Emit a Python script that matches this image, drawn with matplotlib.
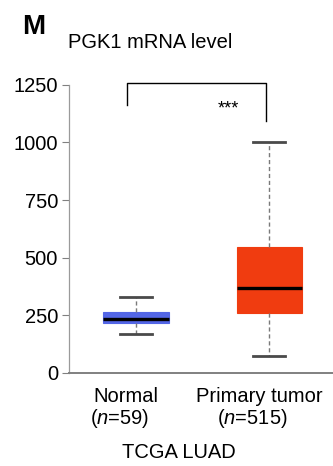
import matplotlib
matplotlib.use("Agg")
import matplotlib.pyplot as plt
import matplotlib.transforms as mtransforms

plt.rcParams['font.family'] = ['Liberation Sans', 'DejaVu Sans']
plt.rcParams['mathtext.fontset'] = 'custom'
plt.rcParams['mathtext.rm'] = 'Liberation Sans'
plt.rcParams['mathtext.it'] = 'Liberation Sans:italic'

# ---- data ----
groups = ["Normal", "Primary tumor"]
counts = [59, 515]
whislo = [169, 74]
q1 = [216, 259]
med = [234, 370]
q3 = [263, 546]
whishi = [331, 1001]
box_colors = ["#5366e6", "#f03c10"]
yticks = [0, 250, 500, 750, 1000, 1250]

fig = plt.figure(figsize=(3.33, 4.66), dpi=100)
ax = fig.add_axes([69/333, 93/466, 264/333, (373-84.7)/466])

stats = []
for i in range(len(groups)):
    stats.append(dict(whislo=whislo[i], q1=q1[i], med=med[i], q3=q3[i],
                      whishi=whishi[i], fliers=[], label=groups[i]))

positions = [1, 2]
bp = ax.bxp(stats, positions=positions, widths=0.49, patch_artist=True,
            showfliers=False, capwidths=0.24,
            medianprops=dict(color="black", linewidth=2.4),
            whiskerprops=dict(color="#7a7a7a", linewidth=1.0, linestyle=(0, (3, 2))),
            capprops=dict(color="#4a4a4a", linewidth=2.0),
            boxprops=dict(linewidth=0.8))
for patch, c in zip(bp['boxes'], box_colors):
    patch.set_facecolor(c)
    patch.set_edgecolor(c)

ax.set_xlim(0.496, 2.48)
ax.set_ylim(0, 1250)
ax.set_yticks(yticks)
ax.set_yticklabels([str(t) for t in yticks], fontsize=14.5)
ax.tick_params(axis='y', length=5, width=0.8, color="#808080", pad=3)
ax.tick_params(axis='x', length=0, pad=10)
ax.set_xticks(positions)
ax.set_xticklabels(groups, fontsize=14.5)
off = mtransforms.ScaledTranslation(-10/100, 0, fig.dpi_scale_trans)
for lab in ax.get_xticklabels():
    lab.set_transform(lab.get_transform() + off)

# second line of the category labels (sample sizes)
trans2 = ax.get_xaxis_transform() + mtransforms.ScaledTranslation(-17/100, -45/100, fig.dpi_scale_trans)
for p, n in zip(positions, counts):
    ax.text(p, 0, f"($\\mathit{{n}}$={n})", transform=trans2, ha="center", va="center",
            fontsize=14.5)

for s in ['top', 'right']:
    ax.spines[s].set_visible(False)
ax.spines['left'].set_color("#9a9a9a")
ax.spines['bottom'].set_color("#808080")
ax.spines['left'].set_linewidth(0.9)
ax.spines['bottom'].set_linewidth(1.4)
ax.spines['left'].set_bounds(0, 1250)

# significance bracket
ax.plot([0.935, 0.935, 1.975, 1.975], [1160, 1257, 1257, 1091],
        color="black", linewidth=1.0, clip_on=False)
ax.text(1.69, 1145, "***", ha="center", va="center", fontsize=13)

fig.text(22/333, 1 - 27/466, "M", fontsize=20, fontweight="bold", va="center", ha="left")
fig.text(68/333, 1 - 43/466, "PGK1 mRNA level", fontsize=14.5, va="center", ha="left")
fig.text(179/333, 1 - 452/466, "TCGA LUAD", fontsize=14.5, va="center", ha="center")

fig.savefig("out.png", dpi=100)
